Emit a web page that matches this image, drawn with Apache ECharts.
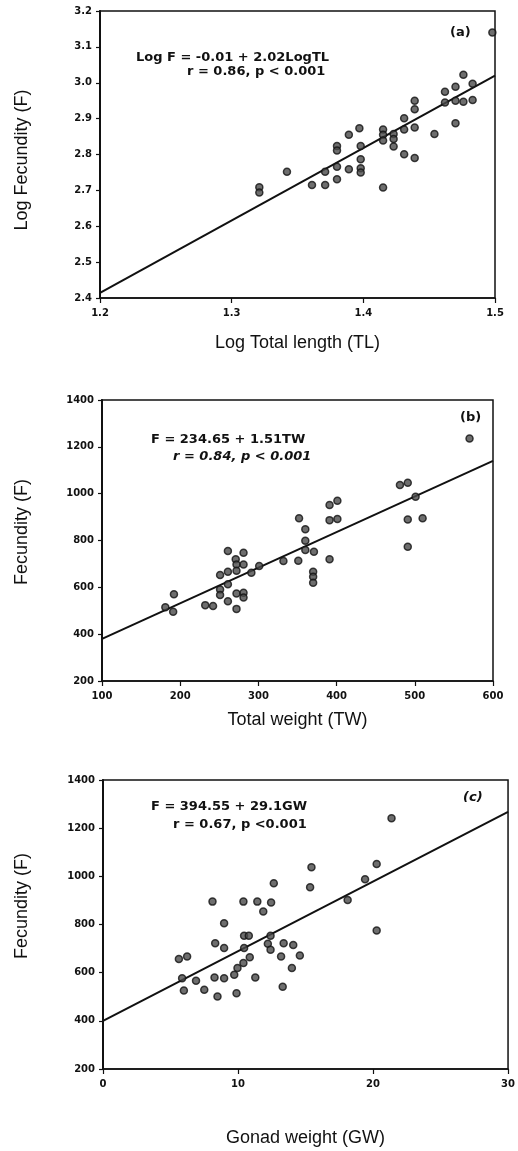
<!DOCTYPE html>
<html>
<head>
<meta charset="utf-8">
<script src="https://cdn.jsdelivr.net/npm/echarts@6/dist/echarts.min.js"></script>
<style>
html,body{margin:0;padding:0;background:#fff;}
#chart{width:518px;height:1151px;}
</style>
</head>
<body>
<div id="chart"></div>
<script>
// ---- Panel (a): Log total length vs Log fecundity ----
const logTL = [1.476,1.470,1.462,1.483,1.462,1.470,1.476,1.483,1.470,1.439,1.439,1.431,1.431,1.439,1.454,1.415,1.415,1.415,1.423,1.423,1.423,1.431,1.439,1.415,1.397,1.389,1.398,1.398,1.398,1.398,1.380,1.380,1.389,1.380,1.371,1.380,1.371,1.361,1.342,1.321,1.321,1.498];
const logF  = [3.022,2.989,2.975,2.997,2.945,2.950,2.947,2.952,2.887,2.950,2.926,2.901,2.870,2.875,2.857,2.870,2.855,2.839,2.857,2.843,2.822,2.801,2.790,2.708,2.873,2.855,2.824,2.787,2.762,2.750,2.824,2.811,2.759,2.766,2.752,2.731,2.715,2.715,2.752,2.709,2.694,3.140];
const fitA_x = [1.2, 1.5];
const fitA_y = [2.414, 3.02];

// ---- Panel (b): Total weight vs Fecundity ----
const TW  = [481,491,501,491,491,391,401,391,401,391,352,360,360,360,371,351,370,370,370,332,301,291,281,261,271,272,281,272,261,251,261,251,251,272,281,281,261,272,242,232,192,181,191,510,570];
const FB  = [1037,1047,987,890,773,952,970,887,892,720,895,848,799,759,752,714,667,645,620,712,691,662,748,755,720,698,698,671,667,653,613,591,567,574,577,557,541,508,520,524,570,515,496,895,1236];
const fitB_x = [100, 600];
const fitB_y = [380, 1140];

// ---- Panel (c): Gonad weight vs Fecundity ----
const GW  = [15.44,15.34,20.27,19.41,18.12,20.27,12.65,8.11,10.40,11.43,12.45,11.87,8.97,10.45,10.80,12.41,8.31,8.97,10.45,12.21,12.41,13.38,14.09,5.62,6.23,10.87,13.19,14.58,10.40,9.96,9.72,13.99,5.86,6.89,8.26,8.97,11.28,5.99,7.50,8.48,9.89,13.31,21.37];
const FC  = [1038,955,1051,988,902,775,971,895,895,895,891,854,805,753,753,753,722,702,702,720,695,722,715,657,667,664,667,671,640,619,591,619,577,566,580,577,580,526,529,501,515,542,1241];
const fitC_x = [0, 30];
const fitC_y = [400, 1268];

// ---- Tick settings / texts ----
const yTicksA = {min: 2.4, max: 3.2, interval: 0.1};
const xTicksA = {min: 1.2, max: 1.5, interval: 0.1};
const yTicksBC = {min: 200, max: 1400, interval: 200};
const xTicksB = {min: 100, max: 600, interval: 100};
const xTicksC = {min: 0, max: 30, interval: 10};

const titles = {
  aX: 'Log Total length (TL)', aY: 'Log Fecundity (F)',
  bX: 'Total weight (TW)', bY: 'Fecundity (F)',
  cX: 'Gonad weight (GW)', cY: 'Fecundity (F)'
};
const eqA = ['Log F = -0.01 + 2.02LogTL', 'r = 0.86, p < 0.001'];
const eqB = ['F = 234.65 + 1.51TW', 'r = 0.84, p < 0.001'];
const eqC = ['F = 394.55 + 29.1GW', 'r = 0.67, p <0.001'];
const tags = ['(a)', '(b)', '(c)'];

const zip = (xs, ys) => xs.map((x, i) => [x, ys[i]]);

const tickFont = {fontFamily: 'DejaVu Sans', fontWeight: 'bold', fontSize: 10, color: '#111'};
const nameFont = {fontFamily: 'Liberation Sans', fontSize: 18, color: '#111'};

function xAx(idx, t, name, gap, dec) {
  return {
    type: 'value', gridIndex: idx, min: t.min, max: t.max, interval: t.interval,
    name: name, nameLocation: 'middle', nameGap: gap, nameTextStyle: nameFont,
    axisLine: {show: true, lineStyle: {color: '#111', width: 1.5}},
    axisTick: {show: true, inside: false, length: 5, lineStyle: {color: '#111', width: 1.2}},
    axisLabel: Object.assign({margin: 10, formatter: v => dec ? v.toFixed(1) : String(Math.round(v))}, tickFont),
    splitLine: {show: false}
  };
}
function yAx(idx, t, dec) {
  return {
    type: 'value', gridIndex: idx, min: t.min, max: t.max, interval: t.interval,
    axisLine: {show: true, lineStyle: {color: '#111', width: 2}},
    axisTick: {show: true, inside: false, length: 4, lineStyle: {color: '#111', width: 1.2}},
    axisLabel: Object.assign({margin: 8, formatter: v => dec ? v.toFixed(1) : String(Math.round(v))}, tickFont),
    splitLine: {show: false}
  };
}

const dotStyle = {color: '#4a4a4a', borderColor: '#111', borderWidth: 1.5};
function scatter(i, data) {
  return {type: 'scatter', xAxisIndex: i, yAxisIndex: i, data: data, symbolSize: 7, itemStyle: dotStyle, silent: true, z: 3};
}
function fit(i, data) {
  return {type: 'line', xAxisIndex: i, yAxisIndex: i, data: data, symbol: 'none', lineStyle: {color: '#111', width: 2}, silent: true, z: 2};
}

const eqFont = {fontFamily: 'DejaVu Sans', fontWeight: 'bold', fontSize: 13, fill: '#111'};
function txt(str, x, y, align, extra) {
  return {type: 'text', left: x, top: y, style: Object.assign({text: str, textAlign: align || 'left'}, eqFont, extra || {})};
}
function yTitle(str, cx, cy) {
  return {type: 'text', x: cx, y: cy, rotation: Math.PI / 2,
    style: {text: str, textAlign: 'center', textVerticalAlign: 'middle', fontFamily: 'Liberation Sans', fontSize: 18, fill: '#111'}};
}

const chart = echarts.init(document.getElementById('chart'), null, {renderer: 'canvas'});
chart.setOption({
  animation: false,
  backgroundColor: '#fff',
  grid: [
    {left: 100, top: 11, width: 395, height: 287, show: true, borderColor: '#111', borderWidth: 1.5},
    {left: 102, top: 400, width: 391, height: 281, show: true, borderColor: '#111', borderWidth: 1.5},
    {left: 103, top: 780, width: 409, height: 289, show: true, borderColor: '#111', borderWidth: 1.5}
  ],
  xAxis: [
    xAx(0, xTicksA, titles.aX, 36, true),
    xAx(1, xTicksB, titles.bX, 30, false),
    xAx(2, xTicksC, titles.cX, 60, false)
  ],
  yAxis: [
    yAx(0, yTicksA, true),
    yAx(1, yTicksBC, false),
    yAx(2, yTicksBC, false)
  ],
  series: [
    fit(0, zip(fitA_x, fitA_y)), scatter(0, zip(logTL, logF)),
    fit(1, zip(fitB_x, fitB_y)), scatter(1, zip(TW, FB)),
    fit(2, zip(fitC_x, fitC_y)), scatter(2, zip(GW, FC))
  ],
  graphic: [
    yTitle(titles.aY, 22, 160),
    yTitle(titles.bY, 22, 532),
    yTitle(titles.cY, 22, 906),
    txt(eqA[0], 136, 51), txt(eqA[1], 187, 65),
    txt(tags[0], 450, 26),
    txt(eqB[0], 151, 433), txt(eqB[1], 173, 450, 'left', {fontStyle: 'italic'}),
    txt(tags[1], 460, 411),
    txt(eqC[0], 151, 800), txt(eqC[1], 173, 818),
    txt(tags[2], 463, 791, 'left', {fontStyle: 'italic'})
  ]
});
</script>
</body>
</html>
